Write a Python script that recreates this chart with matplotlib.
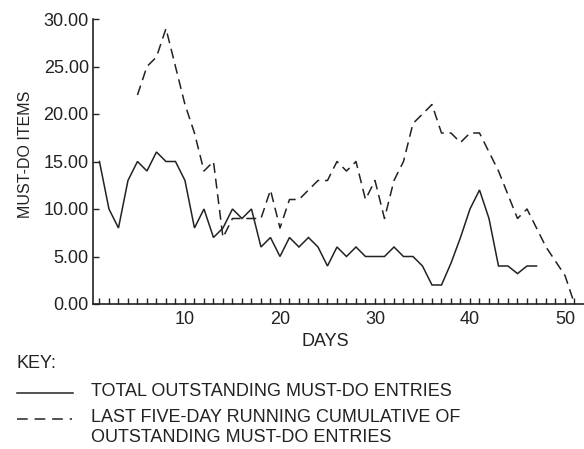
import matplotlib
matplotlib.use("Agg")
import matplotlib.pyplot as plt
from matplotlib.ticker import MultipleLocator, FormatStrFormatter
from matplotlib.lines import Line2D

plt.rcParams['font.family'] = ['Liberation Sans', 'DejaVu Sans']

# Total outstanding must-do entries, days 1-47
total_days = list(range(1, 48))
total_items = [15, 10, 8, 13, 15, 14, 16, 15, 15, 13,
               8, 10, 7, 8, 10, 9, 10, 6, 7, 5,
               7, 6, 7, 6, 4, 6, 5, 6, 5, 5,
               5, 6, 5, 5, 4, 2, 2, 4.3, 7, 10,
               12, 9, 4, 4, 3.2, 4, 4]

# Last five-day running cumulative, days 5-51
cum_days = list(range(5, 52))
cum_items = [22, 25, 26, 29, 25, 21, 18, 14, 15, 7,
             9, 9, 9, 9, 12, 8, 11, 11, 12, 13,
             13, 15, 14, 15, 11, 13, 9, 13, 15, 19,
             20, 21, 18, 18, 17, 18, 18, 16, 14, 11.5,
             9, 10, 8, 6, 4.5, 3, 0]

ink = '#222222'
W, H = 584, 449

fig = plt.figure(figsize=(W / 100, H / 100), dpi=100)
ax = fig.add_axes([93 / W, 1 - 304 / H, 491 / W, 285 / H])

ax.plot(total_days, total_items, color=ink, lw=1.1, solid_joinstyle='miter')
ax.plot(cum_days, cum_items, color=ink, lw=1.1, linestyle=(0, (6.5, 3.8)))

ax.set_xlim(0.32, 52)
ax.set_ylim(0, 30)

for side in ('top', 'right'):
    ax.spines[side].set_visible(False)
for side in ('left', 'bottom'):
    ax.spines[side].set_color(ink)
    ax.spines[side].set_linewidth(1.2)

ax.yaxis.set_major_locator(MultipleLocator(5))
ax.yaxis.set_major_formatter(FormatStrFormatter('%.2f'))
ax.xaxis.set_major_locator(MultipleLocator(10))
ax.set_xticks([d for d in range(1, 52) if d % 10], minor=True)

ax.tick_params(axis='both', which='both', direction='in', color=ink,
               length=4, width=1.0, labelcolor=ink)
ax.tick_params(axis='y', labelsize=13, pad=3)
ax.tick_params(axis='x', labelsize=13, pad=5)

ax.set_xlabel('DAYS', fontsize=13, color=ink)
ax.xaxis.label.set_va('center')
ax.xaxis.set_label_coords((325.5 - 93) / 491, (304 - 341) / 285)
ax.set_ylabel('MUST-DO ITEMS', fontsize=11.5, color=ink)
ax.yaxis.label.set_va('center')
ax.yaxis.label.set_ha('center')
ax.yaxis.set_label_coords((26 - 93) / 491, (304 - 154) / 285)

# Key block below the chart
def fx(px):
    return px / W

def fy(py):
    return 1 - py / H

fig.text(fx(17), fy(364), 'KEY:', fontsize=13, color=ink, va='center')
fig.add_artist(Line2D([fx(17), fx(73)], [fy(392.5), fy(392.5)], color=ink, lw=1.1))
fig.add_artist(Line2D([fx(17), fx(72)], [fy(419), fy(419)], color=ink, lw=1.1,
                      linestyle=(0, (7, 4.5))))
fig.text(fx(91), fy(392), 'TOTAL OUTSTANDING MUST-DO ENTRIES', fontsize=13,
         color=ink, va='center')
fig.text(fx(91), fy(418), 'LAST FIVE-DAY RUNNING CUMULATIVE OF', fontsize=13,
         color=ink, va='center')
fig.text(fx(91), fy(438), 'OUTSTANDING MUST-DO ENTRIES', fontsize=13,
         color=ink, va='center')

fig.savefig('out.png', dpi=100)
